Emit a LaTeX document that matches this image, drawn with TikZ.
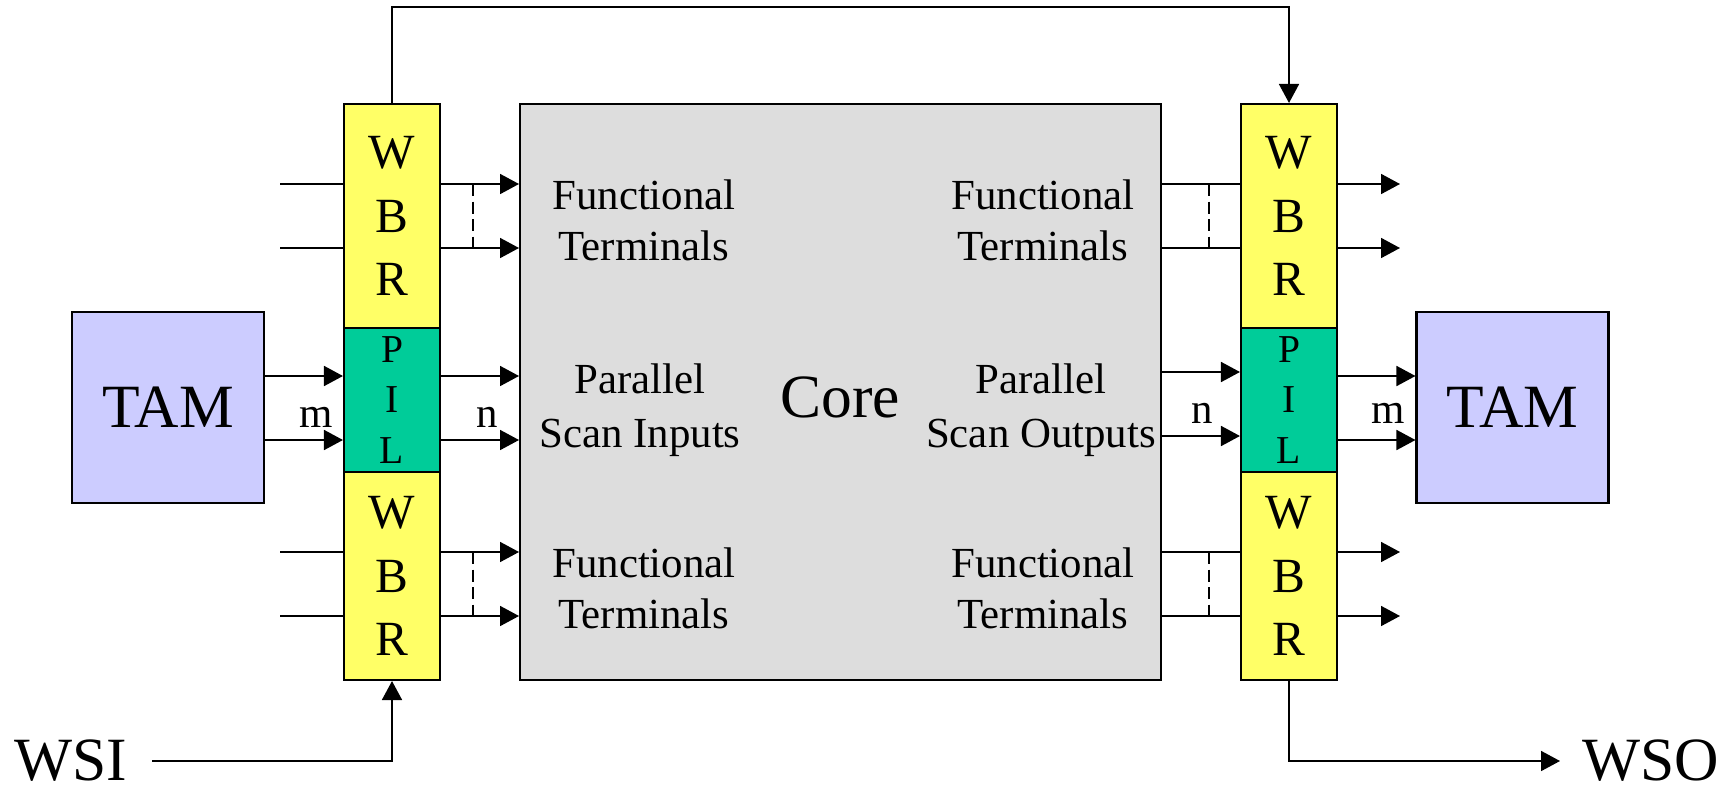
\documentclass[tikz,border=0pt]{standalone}
\usepackage{fontspec}
\setmainfont{Liberation Serif}
\usetikzlibrary{arrows.meta}

\definecolor{wbryellow}{HTML}{FFFF66}
\definecolor{pilgreen}{HTML}{00CC99}
\definecolor{tamblue}{HTML}{CCCCFF}
\definecolor{coregray}{HTML}{DDDDDD}

\begin{document}
\begin{tikzpicture}[x=0.02cm,y=-0.02cm,line width=1pt,>={Triangle[length=0.38cm,width=0.4cm]}]
\tikzset{box/.style={draw,line width=1.2pt,inner sep=0pt,minimum width=1.92cm},
  wbr/.style={box,fill=wbryellow,align=center,font=\fontsize{28}{36}\selectfont},
  pil/.style={box,fill=pilgreen,align=center,minimum height=2.88cm,font=\fontsize{22.5}{28.5}\selectfont},
  tam/.style={box,fill=tamblue,minimum width=3.84cm,minimum height=3.83cm,font=\fontsize{35}{42}\selectfont},
  lbl/.style={anchor=base,inner sep=0pt,font=\fontsize{24.4}{29}\selectfont},
  bus/.style={inner sep=0pt,font=\fontsize{24.4}{29}\selectfont},
  big/.style={anchor=base,inner sep=0pt,font=\fontsize{35}{42}\selectfont}}
\useasboundingbox (0,0) rectangle (1733,791);

% core and wrapper cells
\node[box,fill=coregray,minimum width=12.82cm,minimum height=11.52cm] (core) at (840.5,392) {};
\node[wbr,minimum height=4.48cm] (wbrLT) at (392,216) {W\\B\\R};
\node[pil] (pilL) at (392,400) {P\\I\\L};
\node[wbr,minimum height=4.16cm] (wbrLB) at (392,576) {W\\B\\R};
\node[wbr,minimum height=4.48cm] (wbrRT) at (1289,216) {W\\B\\R};
\node[pil] (pilR) at (1289,400) {P\\I\\L};
\node[wbr,minimum height=4.16cm] (wbrRB) at (1289,576) {W\\B\\R};
\node[tam] (tamL) at (168,407.5) {TAM};
\node[tam] (tamR) at (1512.5,407.5) {TAM};

% texts inside the core
\node[big] (corelbl) at (840,417) {Core};
\node[lbl] (ftL1) at (644,209) {Functional};
\node[lbl] (ftL2) at (644,260) {Terminals};
\node[lbl] (psi1) at (640,393) {Parallel};
\node[lbl] (psi2) at (640,447) {Scan Inputs};
\node[lbl] (fbL1) at (644,577) {Functional};
\node[lbl] (fbL2) at (644,628) {Terminals};
\node[lbl] (ftR1) at (1043,209) {Functional};
\node[lbl] (ftR2) at (1043,260) {Terminals};
\node[lbl] (pso1) at (1041,393) {Parallel};
\node[lbl] (pso2) at (1041,447) {Scan Outputs};
\node[lbl] (fbR1) at (1043,577) {Functional};
\node[lbl] (fbR2) at (1043,628) {Terminals};

\node[big] (wsi) at (71,780) {WSI};
\node[big] (wso) at (1651,780) {WSO};

% functional terminals
\coordinate (dashL) at (473,0);
\coordinate (dashR) at (1209,0);
\foreach \n/\y/\wl/\wr in {1/184/wbrLT/wbrRT,2/248/wbrLT/wbrRT,3/552/wbrLB/wbrRB,4/616/wbrLB/wbrRB} {
  \coordinate (fi\n) at (280,\y);
  \coordinate (fo\n) at (1400,\y);
  \draw (fi\n) -- (fi\n -| \wl.west);
  \draw[->] (fi\n -| \wl.east) -- (fi\n -| core.west);
  \draw (fi\n -| core.east) -- (fi\n -| \wr.west);
  \draw[->] (fi\n -| \wr.east) -- (fo\n);
}
\draw[dashed,dash pattern=on 7pt off 3pt] (dashL |- fi1) -- (dashL |- fi2);
\draw[dashed,dash pattern=on 7pt off 3pt] (dashL |- fi3) -- (dashL |- fi4);
\draw[dashed,dash pattern=on 7pt off 3pt] (dashR |- fi1) -- (dashR |- fi2);
\draw[dashed,dash pattern=on 7pt off 3pt] (dashR |- fi3) -- (dashR |- fi4);

% parallel scan paths
\coordinate (pl1) at (0,376);
\coordinate (pl2) at (0,440);
\coordinate (pr1) at (0,372);
\coordinate (pr2) at (0,436);
\foreach \n in {1,2} {
  \draw[->] (pl\n -| tamL.east) -- (pl\n -| pilL.west);
  \draw[->] (pl\n -| pilL.east) -- (pl\n -| core.west);
  \draw[->] (pr\n -| core.east) -- (pr\n -| pilR.west);
  \draw[->] (pl\n -| pilR.east) -- (pl\n -| tamR.west);
}
\node[bus] (mL) at (316,417) {m};
\node[bus] (nL) at (487,417) {n};
\node[bus] (nR) at (1202,413) {n};
\node[bus] (mR) at (1388,413) {m};

% serial path
\coordinate (wsiin) at (152,761);
\coordinate (wsoout) at (1560,761);
\draw[->] (wsiin) -| (wbrLB.south);
\draw[->] (wbrLT.north) -- ++(0,-96) -| (wbrRT.north);
\draw[->] (wbrRB.south) |- (wsoout);

\end{tikzpicture}
\end{document}
